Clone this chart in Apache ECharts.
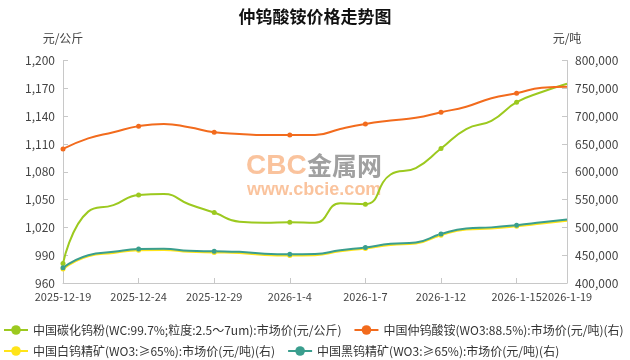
<!DOCTYPE html>
<html>
<head>
<meta charset="utf-8">
<script src="https://cdn.jsdelivr.net/npm/echarts@6/dist/echarts.min.js"></script>
<style>html,body{margin:0;padding:0;background:#fff;}#c{width:630px;height:360px;}</style>
</head>
<body>
<div id="c"></div>
<script>
var categories = ['2025-12-19','2025-12-22','2025-12-23','2025-12-24','2025-12-25','2025-12-26','2025-12-29','2025-12-30','2025-12-31','2026-1-4','2026-1-5','2026-1-6','2026-1-7','2026-1-8','2026-1-9','2026-1-12','2026-1-13','2026-1-14','2026-1-15','2026-1-16','2026-1-19'];
var carbidePowder = [981, 1037, 1044, 1055, 1056, 1045, 1036, 1026, 1025, 1025.5, 1025, 1046, 1045, 1077, 1084, 1105, 1126, 1135, 1155, 1166, 1175];
var apt = [641000, 660000, 671000, 682000, 686000, 680000, 671000, 668000, 666000, 666000, 666000, 677000, 686000, 692000, 697000, 707000, 717000, 732000, 741000, 751000, 753000];
var scheelite = [425000, 448000, 454000, 459000, 459500, 456000, 455000, 454000, 450500, 449500, 450000, 457000, 462000, 468500, 471000, 486000, 496000, 498000, 502000, 507000, 512000];
var wolframite = [427500, 450000, 456000, 461000, 461500, 458000, 457000, 456000, 452500, 451500, 452000, 459000, 464000, 470500, 473000, 488000, 498000, 500000, 504000, 509000, 514000];
var names = ['中国碳化钨粉(WC:99.7%;粒度:2.5～7um):市场价(元/公斤)','中国仲钨酸铵(WO3:88.5%):市场价(元/吨)(右)','中国白钨精矿(WO3:≥65%):市场价(元/吨)(右)','中国黑钨精矿(WO3:≥65%):市场价(元/吨)(右)'];
var colors = ['#9cc91f','#f26b1d','#ffe419','#3a9e8e'];

var FONT = '"Noto Sans CJK SC","Noto Sans",sans-serif';
function showIdx(i){ return i % 3 === 0 || i === categories.length - 1; }
function sym(v, p){ return p.dataIndex % 3 === 0 ? 5 : 0; }
function fmt(v){ return Number(v).toLocaleString('en-US'); }

var chart = echarts.init(document.getElementById('c'), null, {renderer:'canvas'});
function mk(i, data, yi){
  return {
    name: names[i], type:'line', data:data, yAxisIndex: yi, smooth:true,
    symbol:'circle', symbolSize: sym, showAllSymbol:true,
    lineStyle:{width:2, color:colors[i]}, itemStyle:{color:colors[i]},
    emphasis:{disabled:true}
  };
}
var legendText = {fontSize:12, color:'#333', fontFamily:FONT};
chart.setOption({
  animation:false,
  textStyle:{fontFamily:FONT},
  title:{text:'仲钨酸铵价格走势图', left:'center', top:3, textStyle:{fontSize:17, fontWeight:'bold', color:'#111', fontFamily:FONT}},
  grid:{left:63, right:63, top:60.5, bottom:77, containLabel:false},
  legend:[
    {data:[names[0],names[1]], left:3, top:324, width:630, padding:0, itemWidth:24, itemHeight:12, itemGap:12, textStyle:legendText},
    {data:[names[2],names[3]], left:3, top:345, width:630, padding:0, itemWidth:24, itemHeight:12, itemGap:12, textStyle:legendText}
  ],
  xAxis:{
    type:'category', data:categories, boundaryGap:false,
    axisLine:{lineStyle:{color:'#c8c8c8'}},
    axisTick:{inside:true, interval:function(i){return showIdx(i);}, lineStyle:{color:'#c8c8c8'}},
    axisLabel:{interval:function(i){return showIdx(i);}, hideOverlap:false, showMaxLabel:true, showMinLabel:true, color:'#444', fontSize:11, margin:8, fontFamily:FONT}
  },
  yAxis:[
    {type:'value', name:'元/公斤', nameGap:16, nameTextStyle:{color:'#444', fontSize:12, fontFamily:FONT},
     min:960, max:1200, interval:30, position:'left',
     axisLine:{show:true, lineStyle:{color:'#c8c8c8'}}, axisTick:{show:true, inside:true, lineStyle:{color:'#c8c8c8'}},
     splitLine:{show:false}, axisLabel:{formatter:fmt, color:'#444', fontSize:12, margin:8, fontFamily:FONT}},
    {type:'value', name:'元/吨', nameGap:16, nameTextStyle:{color:'#444', fontSize:12, fontFamily:FONT},
     min:400000, max:800000, interval:50000, position:'right',
     axisLine:{show:true, lineStyle:{color:'#c8c8c8'}}, axisTick:{show:true, inside:true, lineStyle:{color:'#c8c8c8'}},
     splitLine:{show:false}, axisLabel:{formatter:fmt, color:'#444', fontSize:12, margin:8, fontFamily:FONT}}
  ],
  graphic:[
    {type:'text', left:246, top:152, z:0, style:{text:'CBC', fill:'rgba(248,170,115,0.7)', font:'bold 28px "Liberation Sans",Arial,sans-serif'}},
    {type:'text', left:307, top:153, z:0, style:{text:'金属网', fill:'rgba(120,120,120,0.7)', font:'bold 25px "Noto Sans CJK SC",sans-serif'}},
    {type:'text', left:247, top:181, z:0, style:{text:'www.cbcie.com', fill:'rgba(248,170,115,0.7)', font:'bold 18px "Liberation Sans",Arial,sans-serif'}}
  ],
  series:[
    mk(0, carbidePowder, 0),
    mk(1, apt, 1),
    mk(2, scheelite, 1),
    mk(3, wolframite, 1)
  ]
});
</script>
</body>
</html>
